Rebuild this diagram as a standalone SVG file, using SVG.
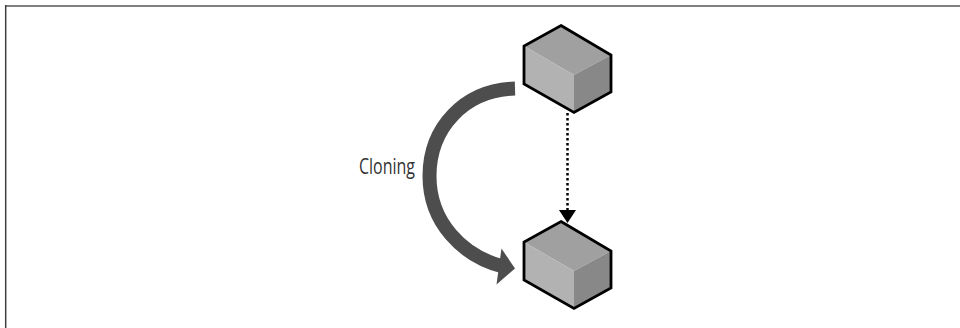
<svg xmlns="http://www.w3.org/2000/svg" width="960" height="328" viewBox="0 0 960 328">
<defs>
<style>
.top{fill:#a0a0a0}.left{fill:#b2b2b2}.right{fill:#888888}
.edge{fill:none;stroke:#000;stroke-width:2.800;stroke-linejoin:miter}
text{font-family:"Open Sans","Liberation Sans",sans-serif;font-size:21px;fill:#333}
</style>
<g id="cube">
<path class="top" d="M561 25.500L611 55L574 75L524 46Z"/>
<path class="left" d="M524 46L574 75V112.500L524 84Z"/>
<path class="right" d="M574 75L611 55V92L574 112.500Z"/>
<path class="edge" d="M561 25.500L611 55V92L574 112.500L524 84V46Z"/>
</g>
</defs>
<rect width="960" height="328" fill="#fff"/>
<path d="M5 6H960" stroke="#808080" stroke-width="2" fill="none"/>
<path d="M5.700 5V328" stroke="#404040" stroke-width="1.500" fill="none"/>
<g id="connectors">
<path d="M567.500 113V210" fill="none" stroke="#000" stroke-width="2.500" stroke-dasharray="2.500 2.500"/>
<path d="M559 210H576L567.500 223Z" fill="#000"/>
<path d="M515 88.500C464 90 429.500 128 429.500 176C429.500 222 462 256 503 266.500" fill="none" stroke="#4d4d4d" stroke-width="14"/>
<path d="M515 268.500L501.500 248.500L496.500 284.500Z" fill="#4d4d4d"/>
</g>
<g id="node-source"><use href="#cube"/></g>
<g id="node-clone"><use href="#cube" y="196"/></g>
<g id="label"><text x="359" y="174" textLength="56" lengthAdjust="spacingAndGlyphs">Cloning</text></g>
</svg>
